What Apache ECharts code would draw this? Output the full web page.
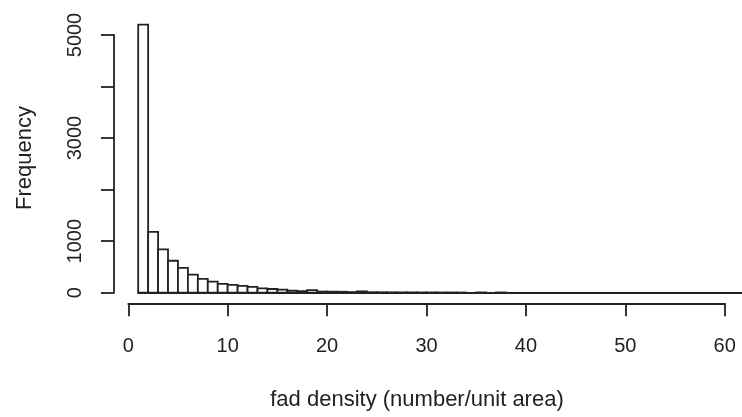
<!DOCTYPE html>
<html>
<head>
<meta charset="utf-8">
<script src="https://cdn.jsdelivr.net/npm/echarts@6/dist/echarts.min.js"></script>
<style>
  html, body { margin: 0; padding: 0; background: #fff; }
  #chart { width: 742px; height: 417px; }
</style>
</head>
<body>
<div id="chart"></div>
<script>
// bin edges (unit width) and counts per bin
var breaks = [1, 2, 3, 4, 5, 6, 7, 8, 9, 10, 11, 12, 13, 14, 15, 16, 17, 18, 19, 20,
  21, 22, 23, 24, 25, 26, 27, 28, 29, 30, 31, 32, 33, 34, 35, 36, 37, 38, 39, 40,
  41, 42, 43, 44, 45, 46, 47, 48, 49, 50, 51, 52, 53, 54, 55, 56, 57, 58, 59, 60, 61, 62];
var counts = [5200, 1180, 840, 620, 480, 350, 270, 215, 170, 150, 132, 112, 85, 72, 58, 42,
  30, 50, 22, 20, 18, 12, 26, 9, 8, 7, 6, 6, 5, 5, 4, 4, 3, 0, 5, 0, 5, 0, 0, 0,
  0, 0, 0, 0, 0, 0, 0, 0, 0, 0, 0, 0, 0, 0, 0, 0, 0, 0, 0, 0, 0];
var xTicks = [0, 10, 20, 30, 40, 50, 60];
var yTicks = [0, 1000, 2000, 3000, 4000, 5000];
var yLabels = [0, 1000, 3000, 5000];

var ink = '#222';
var font = '"Liberation Sans", Arial, Helvetica, sans-serif';

var bins = [];
for (var i = 0; i < counts.length; i++) {
	bins.push([breaks[i], breaks[i + 1], counts[i]]);
}

var chart = echarts.init(document.getElementById('chart'));
var option = {
	backgroundColor: '#fff',
	animation: false,
	grid: [
		// bars
		{ left: 138.2, right: 0, top: 14.4, bottom: 124.3 },
		// y axis
		{ left: 114, width: 10, top: 35, bottom: 124.3 },
		// x axis
		{ left: 128.3, right: 17.3, top: 290, bottom: 113.7 }
	],
	xAxis: [
		{
			gridIndex: 0, type: 'value', min: 1, max: 61.74,
			axisLine: { show: true, onZero: false, lineStyle: { color: ink, width: 1.8 } },
			axisTick: { show: false }, axisLabel: { show: false }, splitLine: { show: false }
		},
		{ gridIndex: 1, type: 'value', show: false },
		{
			gridIndex: 2, type: 'value', min: xTicks[0], max: xTicks[xTicks.length - 1], interval: 10,
			axisLine: { show: true, lineStyle: { color: ink, width: 1.8 } },
			axisTick: { show: true, length: 13, lineStyle: { color: ink, width: 1.8 } },
			axisLabel: { show: true, margin: 33, color: ink, fontSize: 20, fontFamily: font },
			splitLine: { show: false }
		}
	],
	yAxis: [
		{ gridIndex: 0, type: 'value', min: 0, max: 5400, show: false },
		{
			gridIndex: 1, type: 'value', min: yTicks[0], max: yTicks[yTicks.length - 1], interval: 1000,
			axisLine: { show: true, lineStyle: { color: ink, width: 1.8 } },
			axisTick: { show: true, length: 13, lineStyle: { color: ink, width: 1.8 } },
			axisLabel: {
				show: true, rotate: 90, margin: 29, color: ink, fontSize: 20, fontFamily: font,
				formatter: function(v) {
					return yLabels.indexOf(v) >= 0 ? String(v) : '';
				}
			},
			splitLine: { show: false }
		},
		{ gridIndex: 2, type: 'value', show: false }
	],
	graphic: [
		{
			type: 'text', x: 25, y: 158, rotation: Math.PI / 2,
			style: { text: 'Frequency', fill: ink, font: '22px ' + font, align: 'center', verticalAlign: 'middle' }
		},
		{
			type: 'text', x: 417, y: 400,
			style: { text: 'fad density (number/unit area)', fill: ink, font: '22px ' + font, align: 'center', verticalAlign: 'middle' }
		}
	],
	series: [
		{
			type: 'custom',
			xAxisIndex: 0,
			yAxisIndex: 0,
			data: bins,
			clip: false,
			renderItem: function(params, api) {
				var c = api.value(2);
				if (!c) {
					return null;
				}
				var p0 = api.coord([api.value(0), 0]);
				var p1 = api.coord([api.value(1), c]);
				return {
					type: 'rect',
					shape: { x: p0[0], y: p1[1], width: p1[0] - p0[0], height: p0[1] - p1[1] },
					style: { fill: '#fff', stroke: ink, lineWidth: 1.8 }
				};
			}
		}
	]
};
chart.setOption(option);
</script>
</body>
</html>
